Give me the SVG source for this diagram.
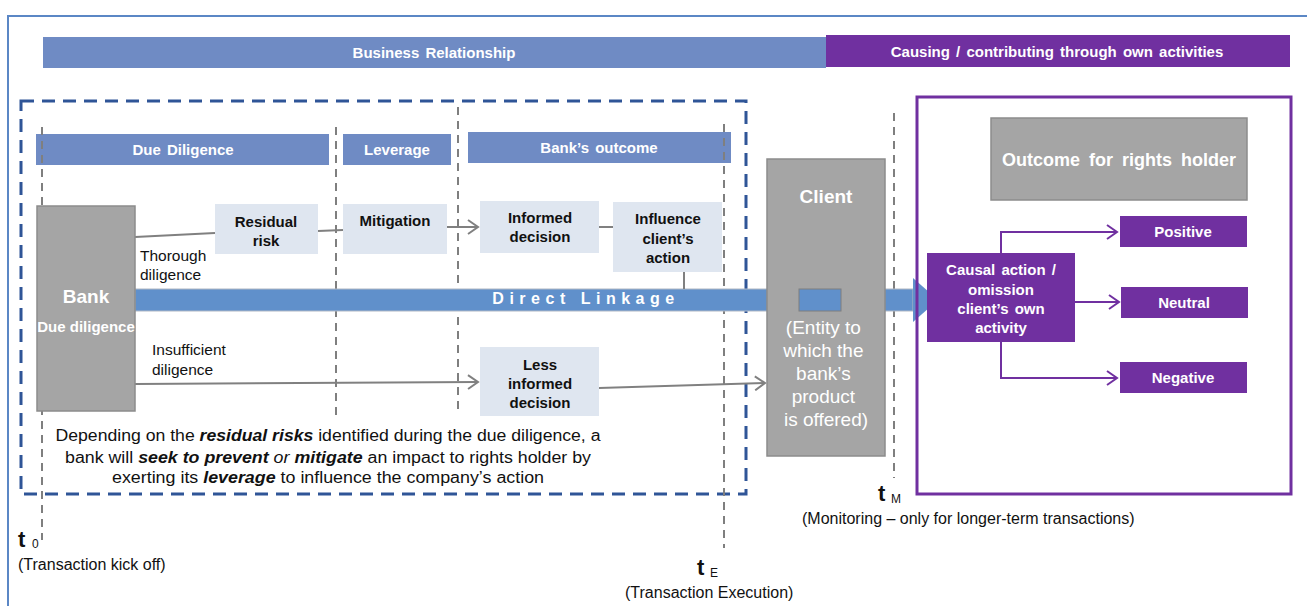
<svg xmlns="http://www.w3.org/2000/svg" width="1307" height="606" viewBox="0 0 1307 606">
<style>
text{font-family:"Liberation Sans",Arial,sans-serif}
.hdr{fill:#6f8bc4}
.hdrt{fill:#fff;font-size:15px;font-weight:bold;text-anchor:middle;word-spacing:2px}
.lb{fill:#dfe6f0}
.lbt{fill:#111;font-size:15px;font-weight:bold;text-anchor:middle}
.gray{fill:#a5a5a5;stroke:#8c8c8c;stroke-width:1.5}
.pur{fill:#7030a0}
.purt{fill:#fff;font-size:15px;font-weight:bold;text-anchor:middle;word-spacing:2px}
.vd{stroke:#7f7f7f;stroke-width:2;stroke-dasharray:8 6;fill:none}
.gl{stroke:#808080;stroke-width:2;fill:none}
.pl{stroke:#7030a0;stroke-width:2;fill:none}
.lbl{fill:#111;font-size:15.5px}
.note{fill:#111;font-size:16px}
.para{fill:#111;font-size:16px;text-anchor:middle}
.bi{font-weight:bold;font-style:italic}
</style>
<defs>
<marker id="ga" markerUnits="userSpaceOnUse" markerWidth="14" markerHeight="16" refX="11" refY="8" orient="auto">
<path d="M1,1 L11,8 L1,15" fill="none" stroke="#808080" stroke-width="2"/>
</marker>
<marker id="pa" markerUnits="userSpaceOnUse" markerWidth="14" markerHeight="16" refX="11" refY="8" orient="auto">
<path d="M1,1 L11,8 L1,15" fill="none" stroke="#7030a0" stroke-width="2"/>
</marker>
</defs>
<rect width="1307" height="606" fill="#fff"/>
<rect x="8" y="16" width="1310" height="600" fill="none" stroke="#5b87c5" stroke-width="2"/>

<g id="top-bars">
<rect x="43" y="37" width="783" height="31" class="hdr"/>
<text x="434" y="58" class="hdrt">Business Relationship</text>
<rect x="826" y="35" width="464" height="32" class="pur"/>
<text x="1057" y="57" class="purt" word-spacing="4">Causing / contributing through own activities</text>
</g>

<g id="dashed-scope">
<rect x="21" y="101" width="725" height="393" fill="none" stroke="#2f5597" stroke-width="3" stroke-dasharray="13 8"/>
</g>

<g id="phase-headers">
<rect x="36" y="134" width="293" height="31" class="hdr"/>
<text x="183" y="155" class="hdrt">Due Diligence</text>
<rect x="343" y="134" width="108" height="31" class="hdr"/>
<text x="397" y="155" class="hdrt">Leverage</text>
<rect x="468" y="132" width="263" height="31" class="hdr"/>
<text x="599" y="153" class="hdrt">Bank’s outcome</text>
</g>

<g id="timelines">
<line x1="42" y1="127" x2="42" y2="540" class="vd"/>
<line x1="336" y1="127" x2="336" y2="415" class="vd"/>
<line x1="458" y1="107" x2="458" y2="415" class="vd"/>
<line x1="724" y1="124" x2="724" y2="548" class="vd"/>
<line x1="894" y1="113" x2="894" y2="478" class="vd"/>
</g>

<g id="direct-linkage">
<rect x="135" y="289" width="778" height="22" fill="#6090cb" stroke="#b0b8c4" stroke-width="1"/>
<path d="M913,278 L938,300 L913,322 Z" fill="#6090cb"/>
<text x="586" y="304" fill="#fff" font-size="16" font-weight="bold" text-anchor="middle" letter-spacing="5.5">Direct Linkage</text>
</g>

<g id="connectors">
<path d="M135,237 L215,233" class="gl"/>
<path d="M318,231 L343,230" class="gl"/>
<path d="M447,227 L478,227" class="gl" marker-end="url(#ga)"/>
<path d="M599,227 L613,227" class="gl"/>
<path d="M684,272 L684,289" class="gl"/>
<path d="M135,384 L478,382" class="gl" marker-end="url(#ga)"/>
<path d="M599,388 L765,383" class="gl" marker-end="url(#ga)"/>
<path d="M1001,253 L1001,232 L1117,232" class="pl" marker-end="url(#pa)"/>
<path d="M1075,302 L1119,302" class="pl" marker-end="url(#pa)"/>
<path d="M1001,342 L1001,378 L1117,378" class="pl" marker-end="url(#pa)"/>
</g>

<g id="bank">
<rect x="37" y="206" width="98" height="205" class="gray"/>
<text x="86" y="303" fill="#fff" font-size="19" font-weight="bold" text-anchor="middle">Bank</text>
<text x="86" y="332" fill="#fff" font-size="15" font-weight="bold" text-anchor="middle">Due diligence</text>
</g>

<g id="labels">
<text x="140" y="261" class="lbl">Thorough</text>
<text x="140" y="280" class="lbl">diligence</text>
<text x="152" y="355" class="lbl">Insufficient</text>
<text x="152" y="375" class="lbl">diligence</text>
</g>

<g id="residual-risk">
<rect x="215" y="204" width="103" height="50" class="lb"/>
<text x="266" y="227" class="lbt">Residual</text>
<text x="266" y="246" class="lbt">risk</text>
</g>
<g id="mitigation">
<rect x="343" y="204" width="104" height="50" class="lb"/>
<text x="395" y="226" class="lbt">Mitigation</text>
</g>
<g id="informed-decision">
<rect x="480" y="201" width="119" height="52" class="lb"/>
<text x="540" y="223" class="lbt">Informed</text>
<text x="540" y="242" class="lbt">decision</text>
</g>
<g id="influence">
<rect x="613" y="202" width="109" height="70" class="lb"/>
<text x="668" y="224" class="lbt">Influence</text>
<text x="668" y="244" class="lbt">client’s</text>
<text x="668" y="263" class="lbt">action</text>
</g>
<g id="less-informed">
<rect x="480" y="347" width="119" height="69" class="lb"/>
<text x="540" y="370" class="lbt">Less</text>
<text x="540" y="389" class="lbt">informed</text>
<text x="540" y="408" class="lbt">decision</text>
</g>

<g id="client">
<rect x="767" y="159" width="118" height="297" class="gray"/>
<text x="826" y="203" fill="#fff" font-size="19" font-weight="bold" text-anchor="middle">Client</text>
<rect x="799" y="289" width="42" height="22" fill="#6090cb" stroke="#7f7f7f" stroke-width="1"/>
<text fill="#fff" font-size="19" text-anchor="middle">
<tspan x="826" y="334">(Entity to</tspan>
<tspan x="826" y="357">which the</tspan>
<tspan x="826" y="380">bank’s</tspan>
<tspan x="826" y="403">product</tspan>
<tspan x="826" y="426">is offered)</tspan>
</text>
</g>

<g id="paragraph">
<text x="328" y="441" class="para" textLength="545" lengthAdjust="spacingAndGlyphs">Depending on the <tspan class="bi">residual risks</tspan> identified during the due diligence, a</text>
<text x="328" y="463" class="para" textLength="526" lengthAdjust="spacingAndGlyphs">bank will <tspan class="bi">seek to prevent</tspan> <tspan font-style="italic">or</tspan> <tspan class="bi">mitigate</tspan> an impact to rights holder by</text>
<text x="328" y="483" class="para" textLength="432" lengthAdjust="spacingAndGlyphs">exerting its <tspan class="bi">leverage</tspan> to influence the company’s action</text>
</g>

<g id="rights-holder-frame">
<rect x="917" y="97" width="374" height="397" fill="none" stroke="#7030a0" stroke-width="3"/>
</g>
<g id="outcome">
<rect x="991" y="118" width="256" height="82" class="gray"/>
<text x="1119" y="166" fill="#fff" font-size="18" font-weight="bold" text-anchor="middle" word-spacing="4">Outcome for rights holder</text>
</g>
<g id="causal">
<rect x="927" y="253" width="148" height="89" class="pur"/>
<text x="1001" y="275" class="purt">Causal action /</text>
<text x="1001" y="295" class="purt">omission</text>
<text x="1001" y="314" class="purt">client’s own</text>
<text x="1001" y="333" class="purt">activity</text>
</g>
<g id="positive">
<rect x="1120" y="216" width="127" height="31" class="pur"/>
<text x="1183" y="237" class="purt">Positive</text>
</g>
<g id="neutral">
<rect x="1121" y="287" width="127" height="31" class="pur"/>
<text x="1184" y="308" class="purt">Neutral</text>
</g>
<g id="negative">
<rect x="1120" y="362" width="127" height="31" class="pur"/>
<text x="1183" y="383" class="purt">Negative</text>
</g>

<g id="time-labels">
<text x="18" y="547" fill="#111" font-size="22" font-weight="bold">t</text>
<text x="32" y="548" fill="#111" font-size="12">0</text>
<text x="18" y="570" class="note">(Transaction kick off)</text>
<text x="697" y="575" fill="#111" font-size="22" font-weight="bold">t</text>
<text x="710" y="577" fill="#111" font-size="12">E</text>
<text x="625" y="598" class="note">(Transaction Execution)</text>
<text x="878" y="501" fill="#111" font-size="22" font-weight="bold">t</text>
<text x="891" y="503" fill="#111" font-size="12">M</text>
<text x="802" y="524" class="note">(Monitoring – only for longer-term transactions)</text>
</g>
</svg>
